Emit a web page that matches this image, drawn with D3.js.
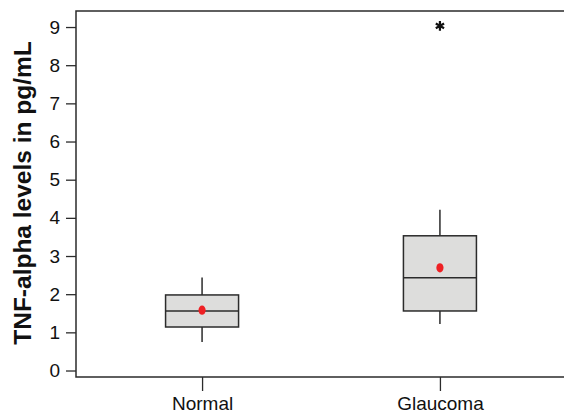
<!DOCTYPE html>
<html>
<head>
<meta charset="utf-8">
<script src="https://cdn.jsdelivr.net/npm/d3@7"></script>
<style>
  body { margin: 0; background: #fff; }
  svg { display: block; font-family: Arial, "Liberation Sans", sans-serif; }
</style>
</head>
<body>
<div id="chart"></div>
<script>
// Box plot data (pg/mL)
const groups = ['Normal', 'Glaucoma'];
const whiskerLow = [0.75, 1.22];
const q1 = [1.14, 1.56];
const median = [1.56, 2.43];
const q3 = [1.98, 3.53];
const whiskerHigh = [2.44, 4.21];
const means = [1.58, 2.69];
const outliers = [[], [9.03]];
const yTicks = [0, 1, 2, 3, 4, 5, 6, 7, 8, 9];

const width = 564, height = 413;
const margin = { top: 11, right: -2, bottom: 36, left: 76 };
const stroke = '#2b2b2b';

const svg = d3.select('#chart')
  .append('svg')
  .attr('width', width)
  .attr('height', height);

const x = d3.scalePoint()
  .domain(groups)
  .range([margin.left, width - margin.right])
  .padding(0.53);

const y = d3.scaleLinear()
  .domain([-0.17, 9.42])
  .range([height - margin.bottom, margin.top]);

const boxWidth = 73;

// Frame: left, top and bottom lines (right side runs off the picture)
svg.append('path')
  .attr('d', `M${width},${margin.top}H${margin.left}V${height - margin.bottom}H${width}`)
  .attr('fill', 'none')
  .attr('stroke', stroke)
  .attr('stroke-width', 1.5);

// Y axis
const yAxis = d3.axisLeft(y)
  .tickValues(yTicks)
  .tickSize(10)
  .tickPadding(6)
  .tickFormat(d3.format('d'));

svg.append('g')
  .attr('transform', `translate(${margin.left},0)`)
  .call(yAxis)
  .call(g => g.select('.domain').remove())
  .call(g => g.selectAll('line').attr('stroke', stroke).attr('stroke-width', 1.3))
  .call(g => g.selectAll('text')
    .attr('fill', '#111')
    .attr('font-size', '19px'));

// X axis
const xAxis = d3.axisBottom(x)
  .tickSize(14)
  .tickPadding(6);

svg.append('g')
  .attr('transform', `translate(0,${height - margin.bottom})`)
  .call(xAxis)
  .call(g => g.select('.domain').remove())
  .call(g => g.selectAll('line').attr('stroke', stroke).attr('stroke-width', 1.3))
  .call(g => g.selectAll('text')
    .attr('fill', '#111')
    .attr('font-size', '19px'));

// Y axis label
svg.append('text')
  .attr('transform', `translate(31,193) rotate(-90)`)
  .attr('text-anchor', 'middle')
  .attr('font-size', '24.5px')
  .attr('font-weight', 'bold')
  .attr('fill', '#111')
  .text('TNF-alpha levels in pg/mL');

// Boxes
const boxes = svg.append('g')
  .selectAll('g')
  .data(groups)
  .join('g');

// whiskers
boxes.append('line')
  .attr('x1', d => x(d)).attr('x2', d => x(d))
  .attr('y1', (d, i) => y(q3[i])).attr('y2', (d, i) => y(whiskerHigh[i]))
  .attr('stroke', stroke).attr('stroke-width', 1.5);

boxes.append('line')
  .attr('x1', d => x(d)).attr('x2', d => x(d))
  .attr('y1', (d, i) => y(q1[i])).attr('y2', (d, i) => y(whiskerLow[i]))
  .attr('stroke', stroke).attr('stroke-width', 1.5);

// IQR box
boxes.append('rect')
  .attr('x', d => x(d) - boxWidth / 2)
  .attr('width', boxWidth)
  .attr('y', (d, i) => y(q3[i]))
  .attr('height', (d, i) => y(q1[i]) - y(q3[i]))
  .attr('fill', '#dddddc')
  .attr('stroke', stroke)
  .attr('stroke-width', 1.5);

// median
boxes.append('line')
  .attr('x1', d => x(d) - boxWidth / 2).attr('x2', d => x(d) + boxWidth / 2)
  .attr('y1', (d, i) => y(median[i])).attr('y2', (d, i) => y(median[i]))
  .attr('stroke', stroke).attr('stroke-width', 1.5);

// mean
boxes.append('ellipse')
  .attr('cx', d => x(d))
  .attr('cy', (d, i) => y(means[i]))
  .attr('rx', 3.6)
  .attr('ry', 4.6)
  .attr('fill', '#ee2024');

// outliers
boxes.each(function (d, i) {
  d3.select(this).selectAll('path.outlier')
    .data(outliers[i])
    .join('path')
    .attr('class', 'outlier')
    .attr('transform', v => `translate(${x(d)},${y(v)})`)
    .attr('d', d3.symbol().type(d3.symbolAsterisk).size(64))
    .attr('fill', 'none')
    .attr('stroke', '#111')
    .attr('stroke-width', 2.2);
});
</script>
</body>
</html>
